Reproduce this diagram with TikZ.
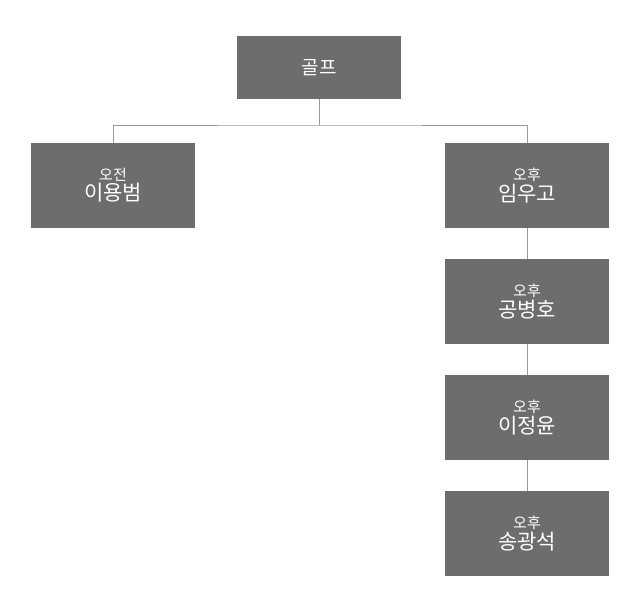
\documentclass[tikz,border=0pt]{standalone}
\usepackage{fontspec}
\setmainfont{Noto Sans CJK KR}
\begin{document}
\begin{tikzpicture}[x=1pt,y=-1pt,
  box/.style={fill=boxgray,text=white,minimum width=164pt,inner sep=0pt,align=center},
  conn/.style={draw=gray!80,line width=0.7pt}]
\definecolor{boxgray}{HTML}{6D6D6D}
\useasboundingbox (0,0) rectangle (640,606);
\node[box,minimum height=63pt,font=\fontsize{19}{22}\selectfont] (top) at (319,67.5) {골프};
\node[box,minimum height=85pt] (l) at (113,185.5) {{\fontsize{15}{18}\selectfont 오전}\\[1pt]{\fontsize{21}{25}\selectfont 이용범}};
\node[box,minimum height=85pt] (r1) at (527,185.5) {{\fontsize{15}{18}\selectfont 오후}\\[1pt]{\fontsize{21}{25}\selectfont 임우고}};
\node[box,minimum height=85pt] (r2) at (527,301.5) {{\fontsize{15}{18}\selectfont 오후}\\[1pt]{\fontsize{21}{25}\selectfont 공병호}};
\node[box,minimum height=85pt] (r3) at (527,417.5) {{\fontsize{15}{18}\selectfont 오후}\\[1pt]{\fontsize{21}{25}\selectfont 이정윤}};
\node[box,minimum height=85pt] (r4) at (527,533.5) {{\fontsize{15}{18}\selectfont 오후}\\[1pt]{\fontsize{21}{25}\selectfont 송광석}};
\coordinate (m) at (319,125);
\draw[conn] (top.south) -- (m);
\draw[conn] (l.north) |- (m) -| (r1.north);
\draw[conn] (r1.south) -- (r2.north);
\draw[conn] (r2.south) -- (r3.north);
\draw[conn] (r3.south) -- (r4.north);
\end{tikzpicture}
\end{document}
